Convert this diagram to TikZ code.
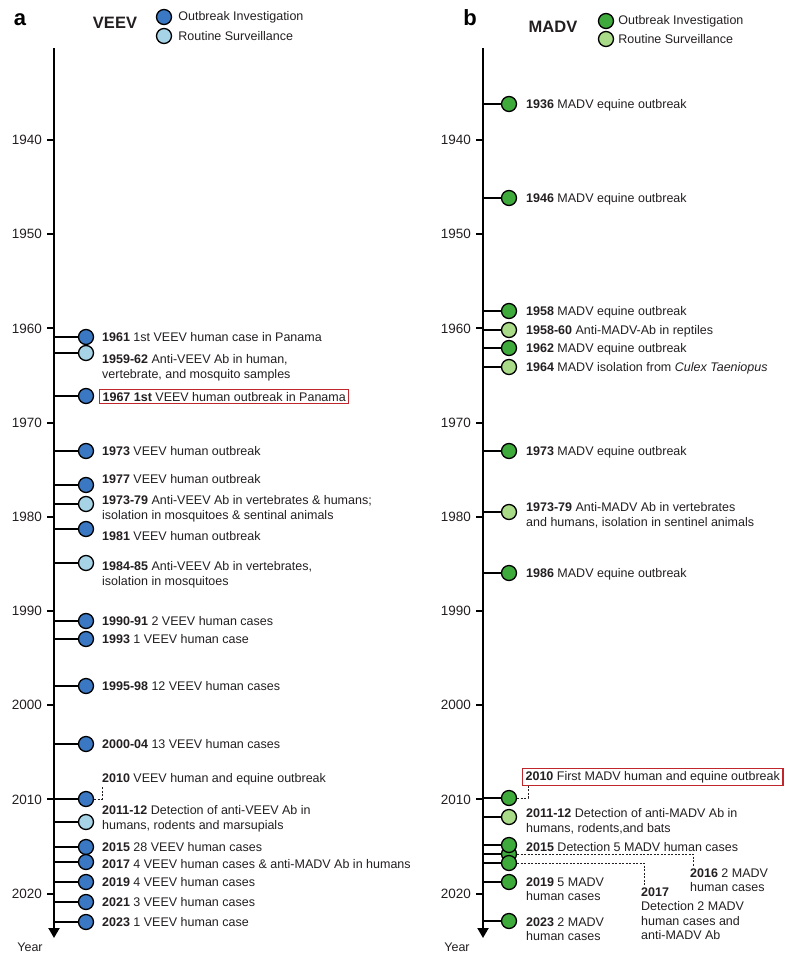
\documentclass[tikz,border=0pt]{standalone}
\usepackage{fontspec}
\setmainfont{Liberation Sans}
\usetikzlibrary{arrows.meta,positioning}

\definecolor{veevdark}{RGB}{59,120,196}
\definecolor{veevlight}{RGB}{166,211,230}
\definecolor{madvdark}{RGB}{61,170,59}
\definecolor{madvlight}{RGB}{168,218,135}
\definecolor{boxred}{RGB}{192,39,45}
\definecolor{inkgray}{RGB}{35,31,32}

\tikzset{
  evt/.style={circle, draw=black, line width=1.3pt, minimum size=15pt, inner sep=0pt},
  outA/.style={evt, fill=veevdark},
  surA/.style={evt, fill=veevlight},
  outB/.style={evt, fill=madvdark},
  surB/.style={evt, fill=madvlight},
  lbl/.style={anchor=north west, align=left, inner sep=0pt, text=inkgray,
    font=\fontsize{12.5}{14.5}\selectfont},
  hlbox/.style={lbl, draw=boxred, line width=1.2pt, inner xsep=3pt, inner ysep=2.5pt, yshift=2.5pt},
  link/.style={line width=1.8pt},
  dlink/.style={line width=0.9pt, inkgray, dash pattern=on 2pt off 1.5pt},
  axis/.style={line width=2pt, -{Triangle[width=11pt,length=10pt]}},
  tick/.style={line width=2pt},
  yrlbl/.style={font=\fontsize{13.5}{16}\selectfont, inner sep=0pt, text=inkgray},
  legtxt/.style={font=\fontsize{12.5}{14.5}\selectfont, inner sep=0pt, text=inkgray},
  virus/.style={font=\bfseries\fontsize{16.5}{18}\selectfont, inner sep=0pt, text=inkgray},
  panel/.style={font=\bfseries\fontsize{22}{24}\selectfont, inner sep=0pt},
}

\begin{document}
\begin{tikzpicture}[x=1pt, y=-1pt]
  \useasboundingbox (0,0) rectangle (792,959);

  % panel a: VEEV
  \node[panel] (pa) at (20,20) {a};
  \node[virus] (veev) at (115,23) {VEEV};
  \node[outA] (legAo) at (164,17) {};
  \node[surA] (legAs) at (164,36) {};
  \node[legtxt, right=6pt of legAo] (legAot) {Outbreak Investigation};
  \node[legtxt, right=6pt of legAs] (legAst) {Routine Surveillance};

  \coordinate (atop) at (54,48);
  \coordinate (abot) at (54,938);
  \draw[axis] (atop) -- (abot);
  \node[legtxt] (ayear) at (30,947) {Year};
  \foreach \yr in {1940,1950,...,2020} {
    \pgfmathsetmacro\yy{140+(\yr-1940)*9.42}
    \draw[tick] (54,\yy) -- (47,\yy) node[yrlbl, left=4pt] (ta\yr) {\yr};
  }

  \foreach \cy/\tx/\ty/\cs/\ts/\id/\txt in {
      337/102/337/outA/lbl/1961/{\textbf{1961} 1st VEEV human case in Panama},
      353/102/359/surA/lbl/5962/{\textbf{1959-62} Anti-VEEV Ab in human,\\vertebrate, and mosquito samples},
      396/99/396/outA/hlbox/1967/{\textbf{1967 1st} VEEV human outbreak in Panama},
      451/102/451/outA/lbl/1973/{\textbf{1973} VEEV human outbreak},
      485/102/479/outA/lbl/1977/{\textbf{1977} VEEV human outbreak},
      504/102/500/surA/lbl/7379/{\textbf{1973-79} Anti-VEEV Ab in vertebrates \& humans;\\isolation in mosquitoes \& sentinal animals},
      529/102/536/outA/lbl/1981/{\textbf{1981} VEEV human outbreak},
      563/102/566/surA/lbl/8485/{\textbf{1984-85} Anti-VEEV Ab in vertebrates,\\isolation in mosquitoes},
      621/102/621/outA/lbl/9091/{\textbf{1990-91} 2 VEEV human cases},
      639/102/639/outA/lbl/1993/{\textbf{1993} 1 VEEV human case},
      686/102/686/outA/lbl/9598/{\textbf{1995-98} 12 VEEV human cases},
      744/102/744/outA/lbl/0004/{\textbf{2000-04} 13 VEEV human cases},
      799/102/778/outA/lbl/2010/{\textbf{2010} VEEV human and equine outbreak},
      822/102/810/surA/lbl/1112/{\textbf{2011-12} Detection of anti-VEEV Ab in\\humans, rodents and marsupials},
      847/102/847/outA/lbl/2015/{\textbf{2015} 28 VEEV human cases},
      862/102/864/outA/lbl/2017/{\textbf{2017} 4 VEEV human cases \& anti-MADV Ab in humans},
      882/102/882/outA/lbl/2019/{\textbf{2019} 4 VEEV human cases},
      902/102/902/outA/lbl/2021/{\textbf{2021} 3 VEEV human cases},
      922/102/922/outA/lbl/2023/{\textbf{2023} 1 VEEV human case}} {
    \node[\cs] (a\id) at (86,\cy) {};
    \draw[link] (a\id.west -| atop) -- (a\id.west);
    \node[\ts] (at\id) at ({\tx},{\ty-4.6}) {\txt};
  }
  \draw[dlink] (a2010.east) -| ([yshift=-2pt]at2010.south west);

  % panel b: MADV
  \node[panel] (pb) at (470,18) {b};
  \node[virus] (madv) at (553,27) {MADV};
  \node[outB] (legBo) at (606,21) {};
  \node[surB] (legBs) at (606,39) {};
  \node[legtxt, right=4pt of legBo] (legBot) {Outbreak Investigation};
  \node[legtxt, right=4pt of legBs] (legBst) {Routine Surveillance};

  \coordinate (btop) at (483,48);
  \coordinate (bbot) at (483,938);
  \draw[axis] (btop) -- (bbot);
  \node[legtxt] (byear) at (457,947) {Year};
  \foreach \yr in {1940,1950,...,2020} {
    \pgfmathsetmacro\yy{140+(\yr-1940)*9.42}
    \draw[tick] (483,\yy) -- (476,\yy) node[yrlbl, left=4pt] (tb\yr) {\yr};
  }

  \foreach \cy/\tx/\ty/\cs/\ts/\id/\txt in {
      104/526/104/outB/lbl/1936/{\textbf{1936} MADV equine outbreak},
      198/526/198/outB/lbl/1946/{\textbf{1946} MADV equine outbreak},
      311/526/311/outB/lbl/1958/{\textbf{1958} MADV equine outbreak},
      330/526/330/surB/lbl/5860/{\textbf{1958-60} Anti-MADV-Ab in reptiles},
      348/526/348/outB/lbl/1962/{\textbf{1962} MADV equine outbreak},
      367/526/367/surB/lbl/1964/{\textbf{1964} MADV isolation from \textit{Culex Taeniopus}},
      451/526/451/outB/lbl/1973/{\textbf{1973} MADV equine outbreak},
      512/526/507/surB/lbl/7379/{\textbf{1973-79} Anti-MADV Ab in vertebrates\\and humans, isolation in sentinel animals},
      573/526/573/outB/lbl/1986/{\textbf{1986} MADV equine outbreak},
      798/522/775/outB/hlbox/2010/{\textbf{2010} First MADV human and equine outbreak},
      817/526/813/surB/lbl/1112/{\textbf{2011-12} Detection of anti-MADV Ab in\\humans, rodents,and bats},
      854/690/873/outB/lbl/2016/{\textbf{2016} 2 MADV\\human cases},
      845/526/847/outB/lbl/2015/{\textbf{2015} Detection 5 MADV human cases},
      863/641/892/outB/lbl/2017/{\textbf{2017}\\Detection 2 MADV\\human cases and\\anti-MADV Ab},
      882/526/882/outB/lbl/2019/{\textbf{2019} 5 MADV\\human cases},
      921/526/922/outB/lbl/2023/{\textbf{2023} 2 MADV\\human cases}} {
    \node[\cs] (b\id) at (509,\cy) {};
    \draw[link] (b\id.west -| btop) -- (b\id.west);
    \node[\ts] (bt\id) at ({\tx},{\ty-4.6}) {\txt};
  }
  \draw[dlink] (b2010.east) -| ([xshift=6pt]bt2010.south west);
  \draw[dlink] (b2016.east) -| ([xshift=3pt,yshift=2pt]bt2016.north west);
  \draw[dlink] (b2017.east) -| ([xshift=3pt,yshift=2pt]bt2017.north west);
\end{tikzpicture}
\end{document}
